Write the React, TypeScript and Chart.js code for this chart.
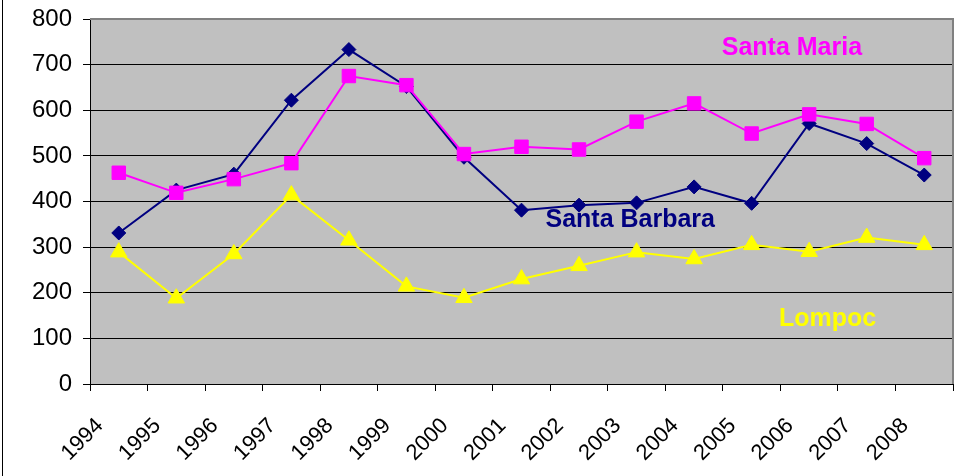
import React, { useEffect, useRef } from "react";
import { Chart, registerables } from "chart.js";

Chart.register(...registerables);

const years = ["1994", "1995", "1996", "1997", "1998", "1999", "2000", "2001", "2002", "2003", "2004", "2005", "2006", "2007", "2008"];
const santaBarbara = [331, 425, 460, 622, 733, 652, 497, 381, 392, 397, 432, 396, 571, 527, 458];
const santaMaria = [463, 419, 449, 484, 675, 655, 504, 520, 514, 575, 615, 549, 591, 570, 495];
const lompoc = [289, 188, 285, 414, 315, 214, 189, 230, 259, 289, 274, 305, 290, 321, 305];

const yMin = 0;
const yMax = 800;
const yStep = 100;

// Series name labels placed inside the plot (category index, value)
const labelNames = ["Santa Maria", "Santa Barbara", "Lompoc"];
const labelIndex = [11.7, 8.89, 12.32];
const labelValue = [721, 345, 127.5];
const labelColors = ["#FF00FF", "#000080", "#FFFF00"];

const FONT = "'Liberation Sans', Arial, sans-serif";

const framePlugin = {
  id: "framePlugin",
  beforeDraw(chart: any) {
    const { ctx, chartArea } = chart;
    ctx.save();
    ctx.fillStyle = "#C0C0C0";
    ctx.fillRect(chartArea.left, chartArea.top, chartArea.right - chartArea.left, chartArea.bottom - chartArea.top);
    ctx.restore();
  },
  afterDraw(chart: any) {
    const { ctx, chartArea } = chart;
    ctx.save();
    // gray top/right plot border
    ctx.strokeStyle = "#808080";
    ctx.lineWidth = 2;
    ctx.beginPath();
    ctx.moveTo(chartArea.left, chartArea.top);
    ctx.lineTo(chartArea.right, chartArea.top);
    ctx.lineTo(chartArea.right, chartArea.bottom);
    ctx.stroke();
    // outer frame left edge
    ctx.strokeStyle = "#000000";
    ctx.lineWidth = 1;
    ctx.beginPath();
    ctx.moveTo(2.5, 0);
    ctx.lineTo(2.5, chart.height);
    ctx.stroke();
    // series labels
    const xs = chart.scales.x;
    const ys = chart.scales.y;
    ctx.font = `bold 25px ${FONT}`;
    ctx.textAlign = "center";
    ctx.textBaseline = "alphabetic";
    labelNames.forEach((name, i) => {
      ctx.fillStyle = labelColors[i];
      ctx.fillText(name, xs.getPixelForValue(labelIndex[i]), ys.getPixelForValue(labelValue[i]));
    });
    ctx.restore();
  },
};

export default function App() {
  const canvasRef = useRef<HTMLCanvasElement | null>(null);

  useEffect(() => {
    if (!canvasRef.current) return;
    const chart = new Chart(canvasRef.current, {
      type: "line",
      data: {
        labels: years,
        datasets: [
          {
            label: "Santa Barbara",
            data: santaBarbara,
            borderColor: "#000080",
            backgroundColor: "#000080",
            borderWidth: 2,
            pointStyle: "rectRot",
            pointRadius: 7,
            pointBorderWidth: 1,
            pointBackgroundColor: "#000080",
            pointBorderColor: "#000080",
            tension: 0,
            order: 3,
          },
          {
            label: "Santa Maria",
            data: santaMaria,
            borderColor: "#FF00FF",
            backgroundColor: "#FF00FF",
            borderWidth: 2,
            pointStyle: "rect",
            pointRadius: 9.5,
            pointBorderWidth: 1,
            pointBackgroundColor: "#FF00FF",
            pointBorderColor: "#FF00FF",
            tension: 0,
            order: 2,
          },
          {
            label: "Lompoc",
            data: lompoc,
            borderColor: "#FFFF00",
            backgroundColor: "#FFFF00",
            borderWidth: 2,
            pointStyle: "triangle",
            pointRadius: 9.5,
            pointBorderWidth: 1,
            pointBackgroundColor: "#FFFF00",
            pointBorderColor: "#FFFF00",
            tension: 0,
            order: 1,
          },
        ],
      },
      options: {
        responsive: false,
        devicePixelRatio: 1,
        animation: false,
        events: [],
        layout: { padding: { top: 19, right: 23, left: 0, bottom: 0 } },
        plugins: {
          legend: { display: false },
          tooltip: { enabled: false },
          title: { display: false },
        },
        scales: {
          x: {
            type: "category",
            offset: true,
            grid: {
              offset: true,
              drawOnChartArea: false,
              color: "#000000",
              tickLength: 7,
              tickWidth: 1,
            },
            border: { display: true, color: "#000000", width: 1 },
            ticks: {
              autoSkip: false,
              minRotation: 45,
              maxRotation: 45,
              color: "#000000",
              font: { family: FONT, size: 22 },
              labelOffset: -19,
              padding: 22,
            },
            afterFit: (s: any) => {
              s.height = 92;
            },
          },
          y: {
            min: yMin,
            max: yMax,
            grid: { color: "#000000", lineWidth: 1, tickLength: 7 },
            border: { display: true, color: "#000000", width: 1 },
            ticks: {
              stepSize: yStep,
              color: "#000000",
              font: { family: FONT, size: 24, lineHeight: 0.6 },
              padding: 11,
            },
            afterFit: (s: any) => {
              s.width = 90;
            },
          },
        },
      },
      plugins: [framePlugin],
    });
    return () => chart.destroy();
  }, []);

  return (
    <div style={{ position: "fixed", left: 0, top: 0, width: 976, height: 476, background: "#ffffff" }}>
      <canvas ref={canvasRef} width={976} height={476} style={{ width: 976, height: 476, display: "block" }} />
    </div>
  );
}
